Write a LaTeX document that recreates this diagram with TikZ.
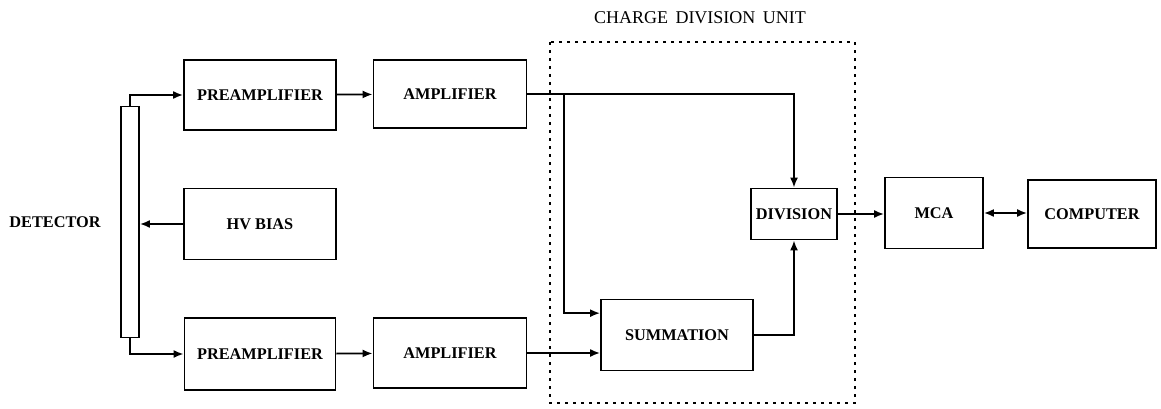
\documentclass[tikz,border=0pt]{standalone}
\usepackage{fontspec}
\setmainfont{Liberation Serif}
\usepackage{tikz}
\usetikzlibrary{positioning,arrows.meta,calc}

\begin{document}
\begin{tikzpicture}[x=1pt, y=-1pt, line width=1.8pt,
  every node/.style={font=\fontsize{16.3}{18}\selectfont\bfseries},
  blk/.style={rectangle, draw, inner sep=0pt},
  sig/.style={-{Latex[length=10pt,width=8pt]}}]
\useasboundingbox (0,0) rectangle (1161,409);
% Detector e alimentação
\node[blk, minimum width=18, minimum height=231] (det) at (130,222) {};
\node (detlbl) at (55,222) {DETECTOR};
\node[blk, minimum width=152, minimum height=70] (pre1) at (260,95) {PREAMPLIFIER};
\node[blk, minimum width=152, minimum height=71] (hv) at (260,224) {HV BIAS};
\node[blk, minimum width=151, minimum height=72] (pre2) at (260,354) {PREAMPLIFIER};
% Amplificadores
\node[blk, minimum width=153, minimum height=68] (amp1) at (450,94) {AMPLIFIER};
\node[blk, minimum width=153, minimum height=70] (amp2) at (450,353) {AMPLIFIER};
% Unidade de divisão de carga
\draw[line width=2.6pt, dash pattern=on 2.6pt off 5.4pt] (550,42) rectangle (855,403);
\node[font=\fontsize{18}{20}\selectfont] (cdu) at (700,18) {CHARGE\, DIVISION\, UNIT};
\node[blk, minimum width=152, minimum height=71] (sum) at (677,335) {SUMMATION};
\node[blk, minimum width=86, minimum height=51] (div) at (794,214) {DIVISION};
% Aquisição
\node[blk, minimum width=98, minimum height=71] (mca) at (934,213) {MCA};
\node[blk, minimum width=128, minimum height=68] (comp) at (1092,214) {COMPUTER};
\coordinate (br) at (564,94);
% Ligações
\draw[sig] (det.north) |- (pre1.west);
\draw[sig] (hv.west) -- (hv.west -| det.east);
\draw[sig] (det.south) |- (pre2.west);
\draw[sig] (pre1) -- (amp1);
\draw[sig] (pre2) -- (amp2);
\draw[sig] (amp1.east) -| (div.north);
\draw[sig] (br) |- ($(sum.north west)!0.2!(sum.south west)$);
\draw[sig] (amp2.east) -- (amp2.east -| sum.west);
\draw[sig] (sum.east) -| (div.south);
\draw[sig] (div.east) -- (div.east -| mca.west);
\draw[{Latex[length=10pt,width=8pt]}-{Latex[length=10pt,width=8pt]}] (mca.east) -- (mca.east -| comp.west);
\end{tikzpicture}
\end{document}
